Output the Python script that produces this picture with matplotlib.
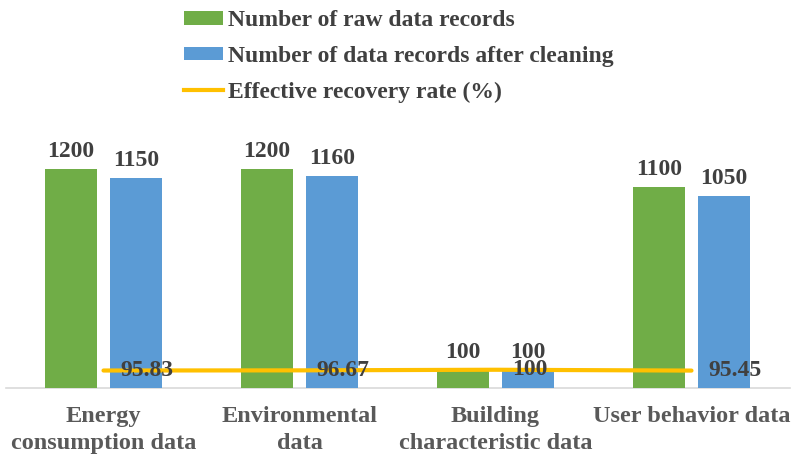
import matplotlib
matplotlib.use("Agg")
import matplotlib.pyplot as plt
from matplotlib.patches import Patch
from matplotlib.lines import Line2D
import numpy as np

categories = ["Energy\nconsumption data", "Environmental\ndata",
              "Building\ncharacteristic data", "User behavior data"]
raw_records = [1200, 1200, 100, 1100]
cleaned_records = [1150, 1160, 100, 1050]
recovery_rate = [95.83, 96.67, 100, 95.45]
recovery_labels = ["95.83", "96.67", "100", "95.45"]

GREEN = "#70AD47"
BLUE = "#5B9BD5"
YELLOW = "#FFC000"
TEXT = "#404040"
FONT = "Liberation Serif"

W, H = 792, 458
fig = plt.figure(figsize=(W / 100, H / 100), dpi=100)
ax = fig.add_axes([5.5 / W, (H - 388) / H, 784 / W, 255.5 / H])

x = np.arange(len(categories))
bw = 0.265
off = 0.166
b1 = ax.bar(x - off, raw_records, bw, color=GREEN, zorder=2)
b2 = ax.bar(x + off, cleaned_records, bw, color=BLUE, zorder=2)
ax.plot(x, recovery_rate, color=YELLOW, lw=3, zorder=3, solid_capstyle="round")

for bars, vals in ((b1, raw_records), (b2, cleaned_records)):
    for r, v in zip(bars, vals):
        ax.annotate(str(v), (r.get_x() + r.get_width() / 2, v), xytext=(0, 5),
                    textcoords="offset points", ha="center", va="bottom",
                    fontsize=17, fontweight="bold", family=FONT, color=TEXT, zorder=4)

for xi, v, lab in zip(x, recovery_rate, recovery_labels):
    ax.annotate(lab, (xi, v), xytext=(12, 0), textcoords="offset points",
                ha="left", va="center", fontsize=17, fontweight="bold",
                family=FONT, color=TEXT, zorder=5)

ax.set_xlim(-0.5, 3.5)
ax.set_ylim(0, 1400)
ax.set_yticks([])
ax.set_xticks(x)
ax.set_xticklabels(categories, fontsize=17.5, fontweight="bold", family=FONT,
                   color="#595959", linespacing=1.35)
ax.tick_params(axis="x", length=0, pad=13)
for s in ("top", "right", "left"):
    ax.spines[s].set_visible(False)
ax.spines["bottom"].set_color("#D9D9D9")
ax.spines["bottom"].set_linewidth(1.2)
ax.spines["bottom"].set_zorder(1)

handles = [Patch(facecolor=GREEN), Patch(facecolor=BLUE),
           Line2D([], [], color=YELLOW, lw=3)]
labels = ["Number of raw data records", "Number of data records after cleaning",
          "Effective recovery rate (%)"]
fig.legend(handles, labels, loc="upper left", bbox_to_anchor=(175 / W, 1 - 1 / H),
           frameon=False, prop={"family": FONT, "weight": "bold", "size": 17},
           labelcolor=TEXT, handlelength=1.65, handleheight=0.5, handletextpad=0.2,
           labelspacing=0.62, borderaxespad=0)

fig.savefig("out.png", dpi=100)
